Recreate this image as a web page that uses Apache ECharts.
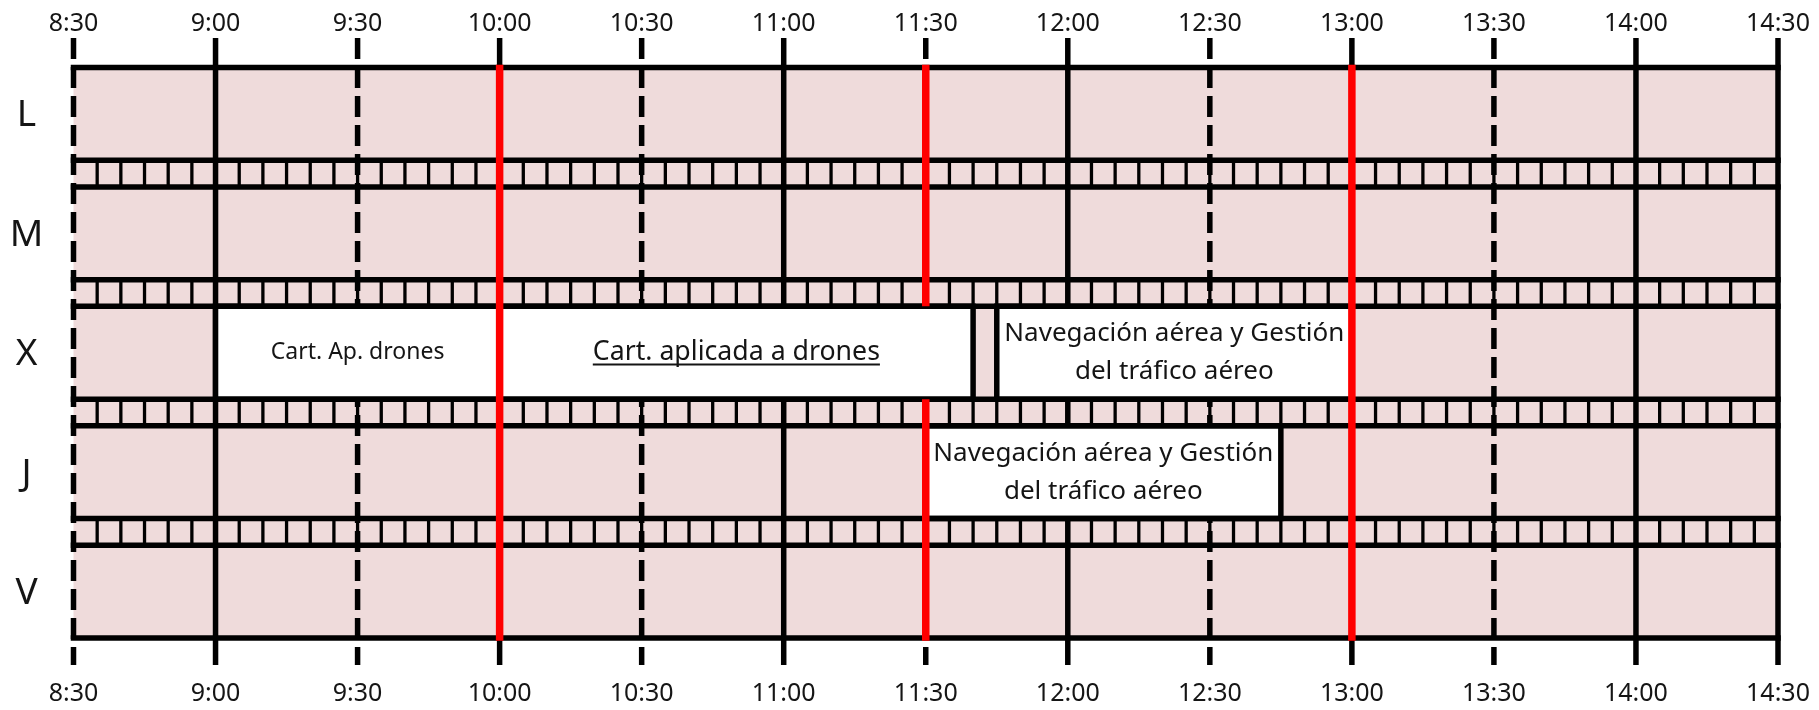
<!DOCTYPE html>
<html><head><meta charset="utf-8">
<script src="https://cdn.jsdelivr.net/npm/echarts@6/dist/echarts.min.js"></script>
<style>html,body{margin:0;padding:0;background:#fff}#c{width:1819px;height:710px}</style>
</head><body><div id="c"></div>
<script>
// ---------- data ----------
const timeLabels = ['8:30','9:00','9:30','10:00','10:30','11:00','11:30','12:00','12:30','13:00','13:30','14:00','14:30'];
const days = ['L','M','X','J','V'];
const eventDays = ['X','X','X','J'];
const eventStarts = ['9:00','10:00','11:45','11:30'];
const eventEnds = ['10:00','11:40','13:00','12:45'];
const eventTitles = [
  'Cart. Ap. drones',
  'Cart. aplicada a drones',
  'Navegación aérea y Gestión\ndel tráfico aéreo',
  'Navegación aérea y Gestión\ndel tráfico aéreo'
];
const redLineTimes = ['10:00','11:30','13:00'];
const slotMinutes = 5;

// ---------- styles ----------
const FONT = '"Noto Sans", sans-serif';
const TEXT_COLOR = '#151515';
const PINK = '#efdbdb';
const eventFontSizes = [23, 26.7, 26, 26];
const eventUnderline = [false, true, false, false];
const MAJOR_W = 5.5, MINOR_W = 3.3, RED_W = 7.5;

function toMin(s){const p=s.split(':').map(Number);return p[0]*60+p[1];}
function fmt(v){const h=Math.floor(v/60), m=v%60; return h+':'+(m<10?'0':'')+m;}

// vertical layout in y units: day rows and thin slot rows between them
const DAY_H = 3.5, GAP_H = 1;
function dayTop(i){return i*(DAY_H+GAP_H);}
function dayBottom(i){return dayTop(i)+DAY_H;}
const Y_MAX = days.length*DAY_H + (days.length-1)*GAP_H;

const xMin = toMin(timeLabels[0]), xMax = toMin(timeLabels[timeLabels.length-1]);

const measureCtx = document.createElement('canvas').getContext('2d');
function textWidth(t, size){measureCtx.font = size+'px "Noto Sans"';return measureCtx.measureText(t).width;}

const chart = echarts.init(document.getElementById('c'), null, {renderer:'canvas'});

const xAxisBase = {
  type:'value', min:xMin, max:xMax, interval:30,
  axisLine:{show:false}, axisTick:{show:false}, splitLine:{show:false},
  axisLabel:{formatter:v=>fmt(v), fontSize:25, fontFamily:FONT, color:TEXT_COLOR, showMinLabel:true, showMaxLabel:true}
};

const boundaries = [0];
days.forEach((d,i)=>{ boundaries.push(dayBottom(i)); if(i<days.length-1) boundaries.push(dayTop(i+1)); });

const option = {
  animation:false,
  grid:{left:73.5, right:41, top:67.5, bottom:72, show:true, backgroundColor:PINK, borderWidth:0},
  xAxis:[
    Object.assign({}, xAxisBase, {position:'top', axisLabel:Object.assign({}, xAxisBase.axisLabel, {margin:31})}),
    Object.assign({}, xAxisBase, {position:'bottom', axisLabel:Object.assign({}, xAxisBase.axisLabel, {margin:43})})
  ],
  yAxis:{type:'value', inverse:true, min:0, max:Y_MAX, show:false},
  series:[
    // thin 5-minute lines in the slot rows
    {
      type:'custom', clip:false, silent:true, z:1,
      data: days.slice(1).map((d,i)=>[i]),
      renderItem:(params, api)=>{
        const i = api.value(0);
        const y1 = api.coord([xMin, dayBottom(i)])[1];
        const y2 = api.coord([xMin, dayTop(i+1)])[1];
        const children = [];
        for(let t=xMin+slotMinutes; t<xMax; t+=slotMinutes){
          const x = api.coord([t, 0])[0];
          children.push({type:'line', shape:{x1:x,y1:y1,x2:x,y2:y2}, style:{stroke:'#000', lineWidth:MINOR_W}});
        }
        return {type:'group', children};
      }
    },
    // half-hour lines with ticks above and below the grid
    {
      type:'custom', clip:false, silent:true, z:2,
      data: timeLabels.map(t=>[toMin(t)]),
      renderItem:(params, api)=>{
        const t = api.value(0);
        const x = api.coord([t, 0])[0];
        const yTop = api.coord([t, 0])[1] - 29.5;
        const yBot = api.coord([t, Y_MAX])[1] + 27;
        const dashed = (t % 60 === 30) && t !== xMax;
        return {type:'line', shape:{x1:x,y1:yTop,x2:x,y2:yBot},
          style:{stroke:'#000', lineWidth:MAJOR_W, lineDash: dashed ? [21,8] : null}};
      }
    },
    // event boxes
    {
      type:'custom', clip:false, silent:true, z:3,
      data: eventDays.map((d,i)=>[toMin(eventStarts[i]), toMin(eventEnds[i]), days.indexOf(d), i]),
      renderItem:(params, api)=>{
        const s = api.value(0), e = api.value(1), di = api.value(2), k = api.value(3);
        const p1 = api.coord([s, dayTop(di)]);
        const p2 = api.coord([e, dayBottom(di)]);
        const cx = (p1[0]+p2[0])/2, cy = (p1[1]+p2[1])/2;
        const fs = eventFontSizes[k];
        const children = [
          {type:'rect', shape:{x:p1[0], y:p1[1], width:p2[0]-p1[0], height:p2[1]-p1[1]},
            style:{fill:'#fff', stroke:'#000', lineWidth:MAJOR_W}},
          {type:'text', style:{text:eventTitles[k], x:cx, y:cy, align:'center', verticalAlign:'middle',
            fontSize:fs, fontFamily:FONT, fill:TEXT_COLOR, lineHeight:38}}
        ];
        if(eventUnderline[k]){
          const w = textWidth(eventTitles[k], fs);
          const uy = cy + 0.44*fs;
          children.push({type:'line', shape:{x1:cx-w/2, y1:uy, x2:cx+w/2, y2:uy}, style:{stroke:TEXT_COLOR, lineWidth:2}});
        }
        return {type:'group', children};
      }
    },
    // horizontal row boundaries
    {
      type:'custom', clip:false, silent:true, z:4,
      data: boundaries.map(b=>[b]),
      renderItem:(params, api)=>{
        const y = api.coord([xMin, api.value(0)])[1];
        const xa = api.coord([xMin, 0])[0] - MAJOR_W/2;
        const xb = api.coord([xMax, 0])[0] + MAJOR_W/2;
        return {type:'line', shape:{x1:xa,y1:y,x2:xb,y2:y}, style:{stroke:'#000', lineWidth:MAJOR_W}};
      }
    },
    // red lines (hidden where an event box covers them)
    {
      type:'custom', clip:false, silent:true, z:5,
      data: redLineTimes.map(t=>[toMin(t)]),
      renderItem:(params, api)=>{
        const t = api.value(0);
        const x = api.coord([t, 0])[0];
        const segs = [];
        days.forEach((d,i)=>{
          const covered = eventDays.some((ed,k)=> ed===d && toMin(eventStarts[k]) < t && toMin(eventEnds[k]) > t);
          if(!covered) segs.push([dayTop(i), dayBottom(i)]);
          if(i<days.length-1) segs.push([dayBottom(i), dayTop(i+1)]);
        });
        const merged = [];
        segs.forEach(s=>{ const last = merged[merged.length-1]; if(last && Math.abs(last[1]-s[0])<1e-9) last[1]=s[1]; else merged.push(s.slice()); });
        return {type:'group', children: merged.map(s=>{
          let y1 = api.coord([t, s[0]])[1], y2 = api.coord([t, s[1]])[1];
          if(s[0]===0) y1 -= MAJOR_W/2;
          if(s[1]===Y_MAX) y2 += MAJOR_W/2;
          return {type:'line', shape:{x1:x,y1:y1,x2:x,y2:y2}, style:{stroke:'#ff0000', lineWidth:RED_W}};
        })};
      }
    },
    // day labels
    {
      type:'custom', clip:false, silent:true, z:6,
      data: days.map((d,i)=>[i]),
      renderItem:(params, api)=>{
        const i = api.value(0);
        const y = api.coord([xMin, (dayTop(i)+dayBottom(i))/2])[1] + 2;
        const x = api.coord([xMin, 0])[0] - 47;
        return {type:'text', style:{text:days[i], x:x, y:y, align:'center', verticalAlign:'middle',
          fontSize:37, fontFamily:FONT, fill:TEXT_COLOR}};
      }
    }
  ]
};
chart.setOption(option);
</script>
</body></html>
